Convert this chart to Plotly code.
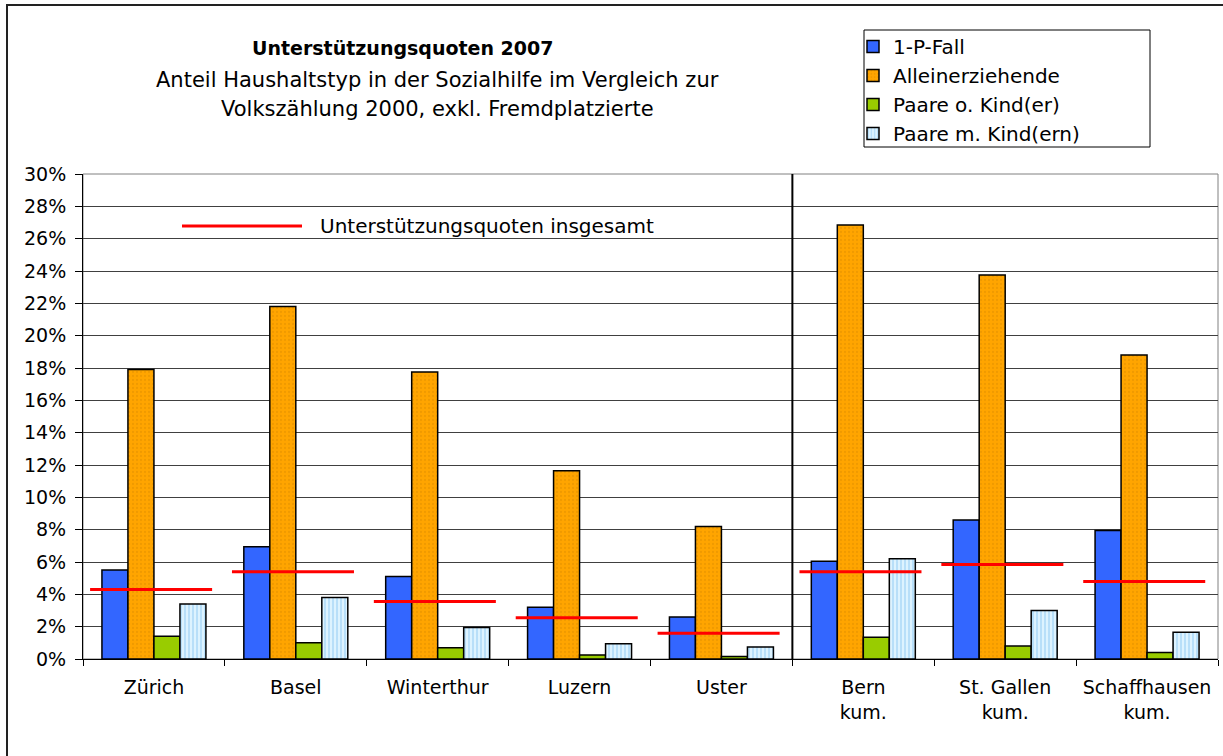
import plotly.graph_objects as go

# ---------------- data ----------------
categories = ["Zürich", "Basel", "Winterthur", "Luzern", "Uster",
              "Bern<br>kum.", "St. Gallen<br>kum.", "Schaffhausen<br>kum."]
one_person = [5.5, 6.95, 5.1, 3.2, 2.6, 6.05, 8.6, 7.95]
single_parents = [17.9, 21.8, 17.75, 11.65, 8.2, 26.85, 23.75, 18.8]
couples_no_kids = [1.4, 1.0, 0.7, 0.25, 0.15, 1.35, 0.8, 0.4]
couples_kids = [3.4, 3.8, 1.95, 0.95, 0.75, 6.2, 3.0, 1.65]
total_rate = [4.3, 5.4, 3.55, 2.55, 1.6, 5.4, 5.85, 4.8]
series_names = ["1-P-Fall", "Alleinerziehende", "Paare o. Kind(er)", "Paare m. Kind(ern)"]
y_ticks = list(range(0, 31, 2))

# ---------------- layout helpers ----------------
FONT = "DejaVu Sans"
W, H = 1223, 756
PL, PR, PT, PB = 83, 1218, 174, 659


def px(x):
    return (x - PL) / (PR - PL)


def py(y):
    return (PB - y) / (PB - PT)


n = len(categories)
xs = list(range(n))

fig = go.Figure()

markers = [
    dict(color="#3366FF"),
    dict(color="#FFA500", pattern=dict(shape=".", fgcolor="#E08E00", bgcolor="#FFA500",
                                        size=4, solidity=0.25)),
    dict(color="#99CC00"),
    dict(color="#CCECFF", pattern=dict(shape="|", fgcolor="#7FC0F0", bgcolor="#DDF3FF",
                                        size=4, solidity=0.4)),
]
values = [one_person, single_parents, couples_no_kids, couples_kids]

for name, vals, mk in zip(series_names, values, markers):
    fig.add_trace(go.Bar(
        x=xs, y=vals, name=name,
        marker=dict(**mk, line=dict(color="black", width=1.5)),
    ))

# total support rate: short horizontal red segments per category
LEFT, RIGHT = -0.45, 0.41
lx, ly = [], []
for i, v in enumerate(total_rate):
    lx += [i + LEFT, i + RIGHT, None]
    ly += [v, v, None]
fig.add_trace(go.Scatter(x=lx, y=ly, mode="lines", line=dict(color="#FF0000", width=3),
                         showlegend=False, hoverinfo="skip", name="Unterstützungsquoten insgesamt"))

sep = sum(1 for c in categories if "kum." not in c) - 0.5

fig.update_layout(
    width=W, height=H,
    margin=dict(l=PL, r=W - PR, t=PT, b=H - PB),
    plot_bgcolor="white", paper_bgcolor="white",
    barmode="group", bargap=0.267, bargroupgap=0,
    font=dict(family=FONT, color="black"),
    legend=dict(x=px(853), y=py(27), xanchor="left", yanchor="top",
                font=dict(size=20, family=FONT, color="black"),
                bgcolor="rgba(0,0,0,0)", borderwidth=0, traceorder="normal"),
    xaxis=dict(range=[-0.5, n - 0.5], tickmode="array", tickvals=xs, ticktext=categories,
               ticks="", showline=True, linecolor="black", linewidth=1,
               tickfont=dict(size=19), ticklabelstandoff=11,
               showgrid=False, zeroline=False,
               minor=dict(tickmode="array", tickvals=[i - 0.5 for i in range(n + 1)],
                          ticks="outside", ticklen=6, tickcolor="black", showgrid=False)),
    yaxis=dict(range=[0, 30], tickmode="array", tickvals=y_ticks,
               ticktext=[f"{t}%" for t in y_ticks],
               ticks="outside", ticklen=7, tickcolor="black",
               showline=True, linecolor="black", linewidth=1,
               gridcolor="#404040", gridwidth=1, zeroline=False,
               tickfont=dict(size=19), ticklabelstandoff=5),
    shapes=[
        # plot-area border
        dict(type="rect", xref="paper", yref="paper", x0=0, x1=1, y0=0, y1=1,
             line=dict(color="#808080", width=1), layer="below"),
        # separator between cities and cumulated cantons
        dict(type="line", xref="x", yref="paper", x0=sep, x1=sep, y0=0, y1=1,
             line=dict(color="black", width=2)),
        # outer chart frame
        dict(type="rect", xref="paper", yref="paper", x0=px(7), x1=px(1240), y0=py(775), y1=py(5),
             line=dict(color="#222222", width=2)),
        # legend frame
        dict(type="rect", xref="paper", yref="paper", x0=px(864), x1=px(1150), y0=py(147), y1=py(30),
             line=dict(color="black", width=1)),
        # inner legend sample for red lines
        dict(type="line", xref="paper", yref="paper", x0=px(182), x1=px(302), y0=py(226), y1=py(226),
             line=dict(color="#FF0000", width=3)),
    ],
    annotations=[
        dict(text="<b>Unterstützungsquoten 2007</b>", xref="paper", yref="paper",
             x=px(403), y=py(48), xanchor="center", yanchor="middle", showarrow=False,
             font=dict(size=19, family=FONT, color="black")),
        dict(text="Anteil Haushaltstyp in der Sozialhilfe im Vergleich zur", xref="paper", yref="paper",
             x=px(437), y=py(80), xanchor="center", yanchor="middle", showarrow=False,
             font=dict(size=21, family=FONT, color="black")),
        dict(text="Volkszählung 2000, exkl. Fremdplatzierte", xref="paper", yref="paper",
             x=px(437), y=py(109), xanchor="center", yanchor="middle", showarrow=False,
             font=dict(size=21, family=FONT, color="black")),
        dict(text="Unterstützungsquoten insgesamt", xref="paper", yref="paper",
             x=px(318), y=py(226), xanchor="left", yanchor="middle", showarrow=False,
             font=dict(size=20, family=FONT, color="black")),
    ],
)

fig.write_html("out.html",
               config={"displayModeBar": False},
               post_script="document.body.style.margin='0';document.body.style.padding='0';")
